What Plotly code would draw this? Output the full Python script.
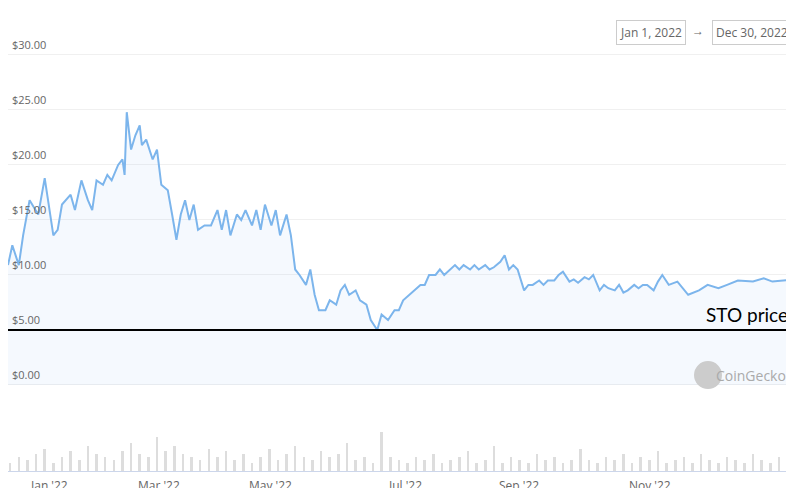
import plotly.graph_objects as go
import pandas as pd

# day-of-year offsets (0 = Jan 1, 2022) and price in USD
days = [0,2,5,7,10,14,17,21,23,25,29,31,34,37,39,41,44,46,48,51,53,54,55,57,59,61,62,64,67,69,71,74,76,78,80,82,84,86,88,91,94,97,99,101,103,106,108,110,113,115,117,119,122,124,126,129,131,133,135,138,140,142,144,147,149,152,154,156,158,161,163,166,168,171,173,176,179,181,183,186,188,191,193,195,198,200,202,205,207,209,211,214,216,218,221,223,225,228,230,232,234,236,239,241,243,246,248,250,253,255,257,260,262,264,267,269,271,274,276,278,281,283,285,287,290,292,294,296,299,301,303,306,310,315,320,324,329,333,338,345,350,354,364]
price = [10.9,12.7,10.9,13.6,16.8,15.5,18.8,13.6,14.1,16.4,17.3,15.9,18.6,16.8,15.9,18.6,18.2,19.1,18.6,20.0,20.5,19.1,24.8,21.4,22.7,23.6,21.8,22.3,20.5,21.4,18.2,17.7,15.5,13.2,15.5,16.8,15.0,16.4,14.1,14.5,14.5,15.9,14.1,15.9,13.6,15.5,15.0,15.9,14.5,15.9,14.1,16.4,14.5,15.9,13.6,15.5,13.6,10.5,10.0,9.1,10.5,8.2,6.8,6.8,7.7,7.3,8.6,9.1,8.2,8.6,7.7,7.3,5.9,5.0,6.4,5.9,6.8,6.8,7.7,8.2,8.6,9.1,9.1,10.0,10.0,10.5,10.0,10.5,10.9,10.5,10.9,10.5,10.9,10.5,10.9,10.5,10.7,11.2,11.8,10.5,10.9,10.5,8.6,9.1,9.1,9.5,9.1,9.5,9.5,10.0,10.3,9.4,9.6,9.3,9.8,9.6,10.0,8.6,9.1,8.8,8.6,9.1,8.4,8.6,9.1,8.8,9.1,9.1,8.6,9.4,10.0,9.1,9.4,8.2,8.6,9.1,8.8,9.1,9.5,9.4,9.7,9.4,9.6,9.3,9.6,9.1]
# weekly volume (relative)
vol_days = list(range(1,364,4))
volume = [3,5,4,6,8,3,5,7,4,9,6,5,4,7,10,6,5,12,7,9,6,5,4,8,5,7,4,6,3,5,8,4,6,9,5,4,7,5,6,10,4,5,3,14,5,4,3,5,4,6,3,4,5,7,3,4,9,3,5,4,3,6,4,5,3,4,8,4,3,5,4,6,3,5,4,7,3,4,5,3,6,4,3,5,4,3,6,4,3,5,4]

base = pd.Timestamp("2022-01-01")
dates = [base + pd.Timedelta(days=d) for d in days]
vdates = [base + pd.Timedelta(days=d) for d in vol_days]

W = 786
fig = go.Figure()
fig.add_trace(go.Bar(x=vdates, y=volume, yaxis="y2", marker_color="#dddddd",
                     marker_line_width=0, width=86400000*1.2))
fig.add_trace(go.Scatter(x=dates, y=price, mode="lines", line=dict(color="#7cb5ec", width=2),
                         fill="tozeroy", fillcolor="rgba(124,181,236,0.08)"))

grid = [0,5,10,15,20,25,30]
fig.update_layout(
    width=W, height=488, margin=dict(l=0, r=0, t=0, b=25),
    paper_bgcolor="white", plot_bgcolor="white", showlegend=False, bargap=0,
    xaxis=dict(range=[base, pd.Timestamp("2022-12-31")], showgrid=False, showticklabels=False,
               showline=True, linecolor="#ccd6eb", zeroline=False),
    yaxis=dict(range=[-7.82, 34.27], tickvals=grid, showticklabels=False, gridcolor="#f0f0f0",
               zeroline=False),
    yaxis2=dict(overlaying="y", range=[0, 14/0.085], visible=False),
)
ann = []
for g in grid:
    ann.append(dict(x=0.003, xref="paper", y=g, yref="y", text=f"${g}.00", showarrow=False,
                    xanchor="left", yanchor="bottom", yshift=1, font=dict(size=11, color="#666")))
for lbl, xp in [("Jan '22", 20), ("Mar '22", 128), ("May '22", 262), ("Jul '22", 397), ("Sep '22", 533), ("Nov '22", 665)]:
    ann.append(dict(x=xp/W, xref="paper", y=0, yref="paper", yshift=-14, text=lbl, showarrow=False,
                    font=dict(size=12, color="#666"), yanchor="middle"))
ann.append(dict(x=1, xref="paper", y=5, yref="y", text="STO price", showarrow=False,
                xanchor="right", yanchor="bottom", yshift=2, xshift=-4, font=dict(size=19, color="black", family="Lato")))
ann.append(dict(x=1, xref="paper", y=1, yref="paper", yshift=-12, xshift=-2, text="Dec 30, 2022", showarrow=False,
                xanchor="right", font=dict(size=12, color="#666"), bordercolor="#ccc", borderwidth=1, borderpad=3))
ann.append(dict(x=1, xref="paper", y=1, yref="paper", yshift=-12, xshift=-88, text="→", showarrow=False,
                xanchor="right", font=dict(size=12, color="#666")))
ann.append(dict(x=1, xref="paper", y=1, yref="paper", yshift=-12, xshift=-108, text="Jan 1, 2022", showarrow=False,
                xanchor="right", font=dict(size=12, color="#666"), bordercolor="#ccc", borderwidth=1, borderpad=3))
ann.append(dict(x=1, xref="paper", y=0.9, yref="y", text="CoinGecko", showarrow=False, xshift=-6,
                xanchor="right", font=dict(size=14, color="#aaa")))
fig.update_layout(annotations=ann, shapes=[
    dict(type="line", xref="paper", x0=0, x1=1, yref="y", y0=5, y1=5, line=dict(color="black", width=2)),
    dict(type="circle", xref="paper", yref="y", xsizemode="pixel", ysizemode="pixel",
         xanchor=1, yanchor=0.9, x0=-100, x1=-72, y0=-14, y1=14, fillcolor="#cccccc", line=dict(width=0)),
])
fig.write_html("out.html")
